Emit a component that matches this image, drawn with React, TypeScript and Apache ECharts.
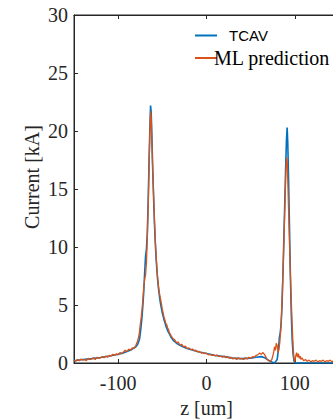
import React, { useEffect, useRef } from "react";
import * as echarts from "echarts";

const tcavZ = [-150, -140, -130, -120, -110, -100, -95, -90, -85, -80, -78, -76, -75, -74, -73, -72, -71, -70, -69, -68, -67, -66, -65, -64, -63.3, -62.6, -62, -61, -60, -59, -58, -57, -56, -55, -54, -53, -52, -51, -50, -48, -46, -44, -42, -40, -37, -33, -28, -22, -15, -8, 0, 10, 20, 30, 40, 50, 56, 62, 66, 70, 74, 77, 80, 81.5, 82.5, 83.5, 84.5, 85.5, 86.5, 87.5, 88.5, 89.5, 90.5, 91.3, 92, 93, 94, 95, 96, 97, 98, 99, 100, 110, 120, 130, 140, 150];
const tcavI = [0.2, 0.3, 0.38, 0.48, 0.6, 0.75, 0.85, 1.0, 1.15, 1.4, 1.6, 2.0, 2.5, 3.2, 4.0, 5.0, 6.2, 7.8, 9.2, 9.8, 11.2, 14.0, 17.5, 20.6, 22.2, 21.6, 20.0, 17.0, 14.5, 12.2, 10.4, 9.0, 7.8, 6.9, 6.2, 5.6, 5.1, 4.7, 4.3, 3.7, 3.2, 2.8, 2.5, 2.2, 1.9, 1.65, 1.45, 1.25, 1.1, 0.95, 0.82, 0.65, 0.55, 0.42, 0.38, 0.42, 0.5, 0.55, 0.45, 0.25, 0.08, 0, 0.3, 1.2, 2.2, 2.6, 3.4, 5.0, 7.5, 10.5, 13.5, 16.5, 19.2, 20.3, 19.0, 15.5, 11.5, 7.5, 4.2, 2.0, 0.8, 0.2, 0, 0, 0, 0, 0, 0];

const mlZ = [-150, -148, -146, -144, -142, -140, -138, -136, -134, -132, -130, -128, -126, -124, -122, -120, -118, -116, -114, -112, -110, -108, -106, -104, -102, -100, -98, -96, -94, -92, -90, -88, -86, -84, -82, -80, -78, -77, -76, -75, -74, -73, -72, -71, -70, -69, -68, -67, -66, -65, -64, -63.3, -62.5, -62, -61, -60, -59, -58, -57, -56, -55, -54, -53, -52, -51, -50, -49, -48, -47, -46, -45, -44, -43, -42, -41, -40, -38, -36, -34, -32, -30, -28, -26, -24, -22, -20, -18, -16, -14, -12, -10, -8, -6, -4, -2, 0, 2, 4, 6, 8, 10, 12, 14, 16, 18, 20, 22, 24, 26, 28, 30, 32, 34, 36, 38, 40, 42, 44, 46, 48, 50, 52, 54, 56, 58, 60, 62, 64, 66, 68, 70, 72, 74, 76, 77, 78, 79, 80, 81, 82, 83, 84, 85, 86, 87, 88, 89, 90, 90.8, 91.5, 92, 93, 94, 95, 96, 97, 98, 99, 100, 101, 102, 103, 104, 105, 106, 107, 108, 110, 112, 114, 116, 118, 120, 122, 124, 126, 128, 130, 132, 134, 136, 138, 140, 142, 144, 146, 148, 150];
const mlI = [0.25, 0.15, 0.3, 0.2, 0.35, 0.25, 0.3, 0.2, 0.4, 0.3, 0.35, 0.45, 0.3, 0.5, 0.4, 0.45, 0.55, 0.45, 0.6, 0.5, 0.65, 0.6, 0.75, 0.65, 0.8, 0.7, 0.9, 0.8, 0.95, 1.1, 1.0, 1.2, 1.1, 1.3, 1.25, 1.5, 1.9, 2.2, 2.6, 3.3, 3.9, 4.6, 5.5, 6.6, 7.2, 7.6, 8.6, 10.8, 13.5, 17.0, 20.2, 21.7, 21.0, 19.5, 17.0, 14.8, 12.5, 10.6, 9.2, 8.0, 7.1, 6.4, 5.9, 5.5, 5.1, 4.6, 4.3, 3.9, 3.7, 3.4, 3.3, 3.0, 2.9, 2.6, 2.5, 2.35, 2.1, 2.0, 1.75, 1.8, 1.55, 1.6, 1.4, 1.45, 1.25, 1.3, 1.15, 1.2, 1.05, 1.1, 0.95, 1.0, 0.85, 0.9, 0.8, 0.85, 0.7, 0.75, 0.65, 0.7, 0.6, 0.7, 0.55, 0.6, 0.5, 0.6, 0.45, 0.55, 0.4, 0.5, 0.35, 0.45, 0.3, 0.45, 0.35, 0.4, 0.3, 0.45, 0.35, 0.5, 0.4, 0.55, 0.5, 0.65, 0.7, 0.85, 0.75, 0.9, 0.7, 0.4, 0.2, 0.15, 0.3, 0.9, 1.4, 1.1, 1.7, 1.5, 0.9, 1.2, 1.8, 2.8, 4.2, 6.5, 8.8, 11.5, 14.3, 16.8, 17.7, 17.2, 15.8, 13.0, 10.2, 7.5, 5.3, 3.2, 1.5, 0.4, 0.1, 0.6, 0.9, 0.5, 0.8, 0.4, 0.6, 0.3, 0.45, 0.2, 0.3, 0.15, 0.25, 0.1, 0.2, 0.15, 0.25, 0.1, 0.2, 0.15, 0.25, 0.1, 0.2, 0.15, 0.25, 0.1, 0.2, 0.15, 0.2, 0.1];

const xTicks = [-100, 0, 100];
const seriesNames = ["TCAV", "ML prediction"];

const SERIF = "Liberation Serif";
const SANS = "Liberation Sans";
const AXIS = "#262626";

const serifRich = { s: { fontFamily: SERIF, fontSize: 20, color: AXIS } };

export default function App() {
  const ref = useRef<HTMLDivElement>(null);
  useEffect(() => {
    if (!ref.current) return;
    const chart = echarts.init(ref.current, null, { renderer: "svg" });
    const tcav = tcavZ.map((z, i) => [z, tcavI[i]]);
    const ml = mlZ.map((z, i) => [z, mlI[i]]);
    chart.setOption({
      animation: false,
      backgroundColor: "#ffffff",
      textStyle: { fontFamily: SERIF },
      grid: {
        left: 74,
        top: 15,
        right: -6,
        bottom: 57,
        containLabel: false,
        outerBoundsMode: "none",
        show: true,
        borderColor: AXIS,
        borderWidth: 1,
      },
      legend: {
        orient: "vertical",
        left: 190,
        top: 23,
        itemWidth: 22,
        itemHeight: 2,
        itemGap: 5,
        icon: "rect",
        data: [
          {
            name: seriesNames[0],
            icon: "rect",
            textStyle: { fontFamily: SANS, fontSize: 15, color: "#000", padding: [0, 0, 0, 7] },
          },
          {
            name: seriesNames[1],
            icon: "rect",
            textStyle: { fontFamily: SERIF, fontSize: 20, color: "#000", padding: [0, 0, 0, -8] },
          },
        ],
      },
      graphic: [
        {
          type: "text",
          x: 32,
          y: 177,
          rotation: Math.PI / 2,
          style: {
            text: "Current [kA]",
            fontFamily: SERIF,
            fontSize: 20,
            fill: "#262626",
            align: "center",
            verticalAlign: "middle",
          },
        },
      ],
      xAxis: [
        {
          type: "value",
          min: -150,
          max: 150,
          name: "z [um]",
          nameLocation: "middle",
          nameGap: 34,
          nameTextStyle: { fontFamily: SERIF, fontSize: 20, color: AXIS },
          axisLine: { show: true, onZero: false, lineStyle: { color: AXIS, width: 1 } },
          axisTick: { show: true, inside: true, length: 4, customValues: xTicks, lineStyle: { color: AXIS } },
          axisLabel: {
            customValues: xTicks,
            margin: 10,
            fontFamily: SERIF,
            fontSize: 20,
            color: AXIS,
            formatter: (v: number) => `{s|${v}}`,
            rich: serifRich,
          },
          splitLine: { show: false },
        },
        {
          type: "value",
          position: "top",
          min: -150,
          max: 150,
          axisLine: { show: true, onZero: false, lineStyle: { color: AXIS, width: 1 } },
          axisTick: { show: true, inside: true, length: 4, customValues: xTicks, lineStyle: { color: AXIS } },
          axisLabel: { show: false },
          splitLine: { show: false },
        },
      ],
      yAxis: {
        type: "value",
        min: 0,
        max: 30,
        interval: 5,
        axisLine: { show: true, onZero: false, lineStyle: { color: AXIS, width: 1 } },
        axisTick: { show: true, inside: true, length: 4, lineStyle: { color: AXIS } },
        axisLabel: {
          margin: 6,
          fontFamily: SERIF,
          fontSize: 20,
          color: AXIS,
          formatter: (v: number) => `{s|${v}}`,
          rich: serifRich,
        },
        splitLine: { show: false },
      },
      series: [
        {
          name: seriesNames[0],
          type: "line",
          data: tcav,
          symbol: "none",
          showSymbol: false,
          lineStyle: { color: "#0072BD", width: 1.6 },
          itemStyle: { color: "#0072BD" },
          z: 2,
        },
        {
          name: seriesNames[1],
          type: "line",
          data: ml,
          symbol: "none",
          showSymbol: false,
          lineStyle: { color: "#D95319", width: 1.3 },
          itemStyle: { color: "#D95319" },
          z: 3,
        },
      ],
    });
    return () => chart.dispose();
  }, []);
  return (
    <div
      ref={ref}
      style={{ position: "fixed", left: 0, top: 0, width: 333, height: 420, background: "#fff" }}
    />
  );
}
